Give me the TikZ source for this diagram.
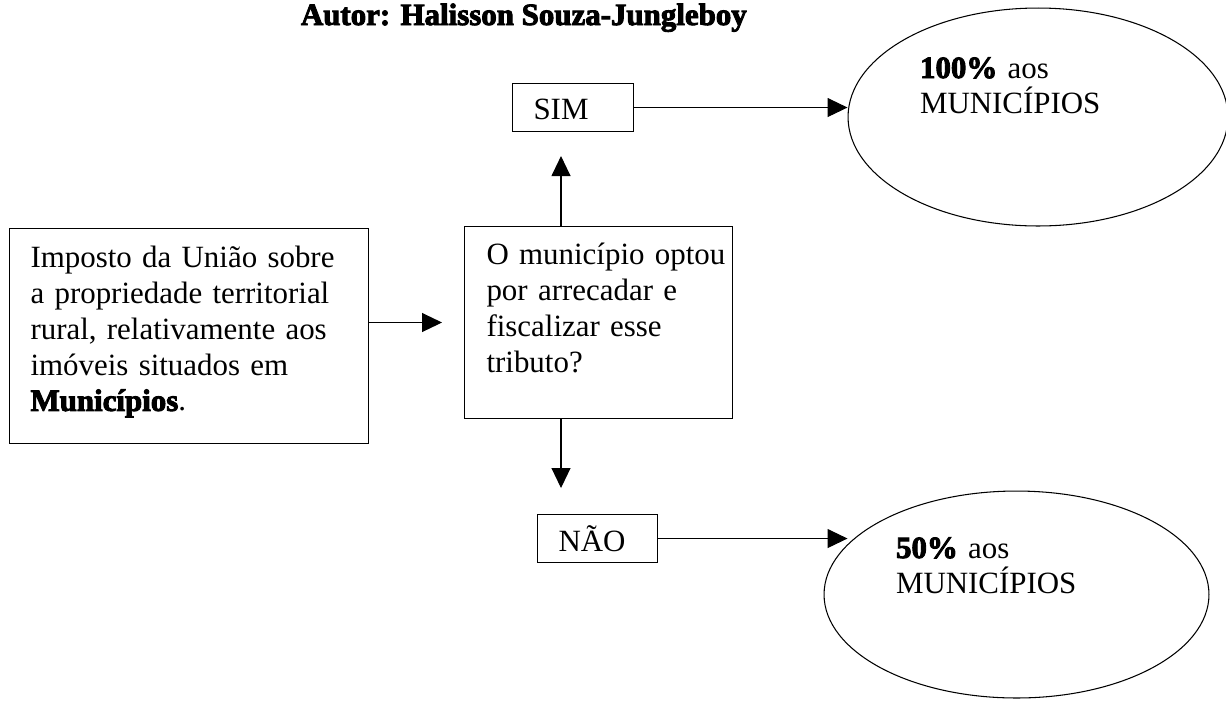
\documentclass[tikz,border=0pt]{standalone}
\usepackage{fontspec}
\setmainfont{Liberation Serif}
\newfontfamily\heavy[BoldFeatures={FakeBold=3}]{Liberation Serif}
\usetikzlibrary{arrows.meta,shapes.geometric}

\tikzset{
  caixa/.style={draw, line width=0.6pt, rectangle, anchor=north west,
    inner ysep=0pt, align=left},
  oval/.style={draw, line width=0.6pt, ellipse, align=left, inner sep=0pt},
  seta/.style={-{Triangle[length=0.4cm,width=0.38cm]}, line width=0.6pt},
}

\begin{document}
\begin{tikzpicture}[x=0.02cm, y=-0.02cm, font=\fontsize{17.6}{20.4}\selectfont]
  \useasboundingbox (0,0) rectangle (1226,704);
  \coordinate (eixo) at (561,0);

  \node[anchor=base east, font=\fontsize{17.6}{20.4}\selectfont\heavy\bfseries]
    (autor) at (753,25) {Autor: Halisson Souza-Jungleboy};

  % caixas
  \node[caixa, inner xsep=0.42cm, text width=6.34cm,
    text height=0.78cm, text depth=3.52cm] (imposto) at (9,228)
    {Imposto da União sobre\\ a propriedade territorial\\
     rural, relativamente aos\\ imóveis situados em\\
     {\heavy\bfseries Municípios}.};
  \node[caixa, inner xsep=0.44cm, text width=4.48cm,
    text height=0.76cm, text depth=3.08cm] (pergunta) at (464,226)
    {\mbox{O município optou}\\ por arrecadar e\\ fiscalizar esse\\ tributo?};
  \node[caixa, inner xsep=0.42cm, text width=1.58cm,
    text height=0.72cm, text depth=0.24cm] (sim) at (512,83) {SIM};
  \node[caixa, inner xsep=0.42cm, text width=1.56cm,
    text height=0.74cm, text depth=0.22cm] (nao) at (537,514) {NÃO};

  % elipses
  \node[oval, minimum width=7.6cm, minimum height=4.36cm, text width=4.72cm,
    text height=0.5cm, text depth=2.06cm] (cem) at (1038,117)
    {{\heavy\bfseries 100\%} aos\\ MUNICÍPIOS};
  \node[oval, minimum width=7.7cm, minimum height=4.14cm, text width=4.82cm,
    text height=0.5cm, text depth=1.96cm] (cinq) at (1016.5,594.5)
    {{\heavy\bfseries 50\%} aos\\ MUNICÍPIOS};

  % setas
  \draw[seta, shorten >=0.44cm] (pergunta.west -| imposto.east) -- (pergunta.west);
  \draw[seta, shorten >=0.48cm] (eixo |- pergunta.north) -- (eixo |- sim.south);
  \draw[seta, shorten >=0.52cm] (eixo |- pergunta.south) -- (eixo |- nao.north);
  \draw[seta] (sim.east) -- (sim.east -| cem.west);
  \draw[seta, shorten >=-0.48cm] (nao.east) -- (nao.east -| cinq.west);
\end{tikzpicture}
\end{document}
